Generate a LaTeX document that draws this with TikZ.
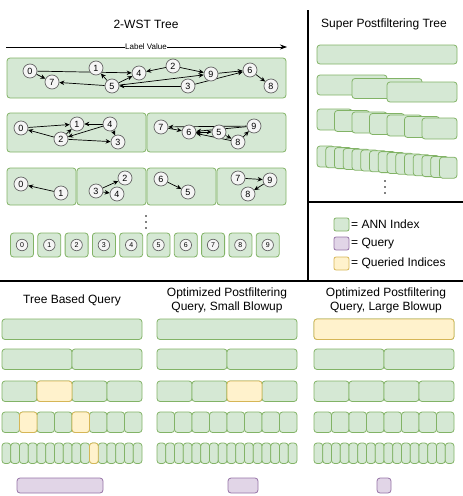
\documentclass[tikz,border=0pt]{standalone}
\usepackage{fontspec}
\setmainfont{Liberation Sans}
\usetikzlibrary{arrows.meta,backgrounds}
\definecolor{annfill}{HTML}{D5E8D4}
\definecolor{annline}{HTML}{82B366}
\definecolor{qfill}{HTML}{E1D5E7}
\definecolor{qline}{HTML}{9673A6}
\definecolor{hitfill}{HTML}{FFF2CC}
\definecolor{hitline}{HTML}{D6B656}
\definecolor{vfill}{HTML}{F5F5F5}
\definecolor{vline}{HTML}{666666}

\begin{document}
\begin{tikzpicture}[x=1pt,y=-1pt,
    ann/.style={draw=annline,fill=annfill,rounded corners=3pt,line width=0.8pt},
    hit/.style={draw=hitline,fill=hitfill,rounded corners=3pt,line width=0.8pt},
    qry/.style={draw=qline,fill=qfill,rounded corners=3pt,line width=0.8pt},
    vtx/.style={draw=vline,fill=vfill,shape=circle,inner sep=0pt,minimum size=14pt,line width=0.7pt,font=\fontsize{9}{9}\selectfont},
    tiny/.style={vtx,minimum size=11.5pt,font=\fontsize{7}{7}\selectfont},
    edge/.style={-{Stealth[length=5pt,width=4.5pt]},line width=0.7pt},
    title/.style={font=\fontsize{12}{13.5}\selectfont,align=center},
    legend/.style={anchor=west,font=\fontsize{12}{13.5}\selectfont,inner sep=1pt}]
  \useasboundingbox (0,0) rectangle (463,496);

  \node[title] (tleft) at (146,24) {2-WST Tree};
  \node[title] (tright) at (384,24) {Super Postfiltering Tree};
  \coordinate (axs) at (6,47);
  \coordinate (axe) at (287,47);
  \draw[-{Stealth[length=7pt,width=5pt]},line width=0.7pt] (axs) -- (axe);
  \node[fill=white,inner sep=0.6pt,font=\fontsize{8}{8}\selectfont] (axlabel) at (146,47) {Label Value};

  \begin{scope}[on background layer]
    \draw[ann] (7,58) rectangle (286,98);
    \foreach \i in {0,1}
      \draw[ann] ({7+140*\i},113) rectangle ({146+140*\i},152);
    \foreach \i in {0,...,3}
      \draw[ann] ({7+70*\i},168) rectangle ({76+70*\i},205);
  \end{scope}

  \foreach \n/\x/\y in {0/30/71,7/52/82,1/96/68,5/112/86,4/139/73,2/173/66,9/211/74,3/188/86,6/250/70,8/271/86}
    \node[vtx] (a\n) at (\x,\y) {\n};
  \foreach \n/\x/\y in {0/21/128,1/77/124,2/61/139,4/110/124,3/118/142,7/161/127,6/189/132,5/219/132,8/238/142,9/254/126}
    \node[vtx] (b\n) at (\x,\y) {\n};
  \foreach \n/\x/\y in {0/21/184,1/61/193,2/125/178,3/96/191,4/117/194,6/161/179,5/188/192,7/238/178,9/270/180,8/248/194}
    \node[vtx] (c\n) at (\x,\y) {\n};

  \begin{scope}[on background layer]
    \draw[edge] (a0) -- (a7);
    \draw[edge] (a0) -- (a4);
    \draw[edge] (a5) -- (a7);
    \draw[edge] (a5) -- (a1);
    \draw[edge] (a5) -- (a4);
    \draw[edge] (a2) -- (a4);
    \draw[edge] (a2) -- (a9);
    \draw[edge] (a3) -- (a5);
    \draw[edge] (a5) -- (a9);
    \draw[edge] (a3) -- (a6);
    \draw[edge] (a9) -- (a6);
    \draw[edge] (a6) -- (a8);
    \draw[edge] (b2) -- (b0);
    \draw[edge] (b0) -- (b1);
    \draw[edge] (b2) -- (b1);
    \draw[edge] (b4) -- (b1);
    \draw[edge] (b4) -- (b3);
    \draw[edge] (b4) -- (b2);
    \draw[edge] (b2) -- (b3);
    \draw[edge] (b9) -- (b7);
    \draw[edge] (b7) -- (b6);
    \draw[edge] (b9) -- (b6);
    \draw[edge] (b6) -- (b5);
    \draw[edge] (b5) -- (b8);
    \draw[edge] (b8) -- (b9);
    \draw[edge] (b8) -- (b6);
    \draw[edge] (c1) -- (c0);
    \draw[edge] (c3) -- (c2);
    \draw[edge] (c3) -- (c4);
    \draw[edge] (c6) -- (c5);
    \draw[edge] (c7) -- (c9);
    \draw[edge] (c9) -- (c8);
  \end{scope}

  \foreach \k in {0,1,2}
    \fill (146,{216+6*\k}) circle (0.9pt);
  \foreach \i in {0,...,9} {
    \pgfmathsetmacro\cx{22+27.3*\i}
    \draw[ann] ({\cx-11.5},233) rectangle ({\cx+11.5},257);
    \node[tiny] (d\i) at (\cx,245) {\i};
  }

  \draw[ann] (317,45) rectangle (457,64);
  \foreach \i in {0,1,2}
    \draw[ann] ({317+35*\i},{75+3.5*\i}) rectangle ({387+35*\i},{95+3.5*\i});
  \foreach \i in {0,...,6}
    \draw[ann] ({317+17.5*\i},{109+1.5*\i}) rectangle ({352+17.5*\i},{130+1.5*\i});
  \foreach \i in {0,...,14}
    \draw[ann] ({317+8.75*\i},{146+0.8*\i}) rectangle ({334.5+8.75*\i},{167+0.8*\i});
  \foreach \k in {0,1,2}
    \fill (385,{181+6*\k}) circle (0.9pt);

  \draw[line width=1.2pt] (308,10) -- (308,281);
  \draw[line width=1.2pt] (0,281) -- (463,281);
  \draw[line width=1.2pt] (308,202) -- (463,202);

  \draw[ann,rounded corners=2pt] (334,218) rectangle (349,231);
  \node[legend] (lgann) at (350,224.5) {= ANN Index};
  \draw[qry,rounded corners=2pt] (334,237) rectangle (349,250);
  \node[legend] (lgqry) at (350,243.5) {= Query};
  \draw[hit,rounded corners=2pt] (334,257) rectangle (349,270);
  \node[legend] (lghit) at (350,263.5) {= Queried Indices};

  \node[title] (qtree) at (72,300) {Tree Based Query};
  \node[title] (qsmall) at (227,300.5) {Optimized Postfiltering\\Query, Small Blowup};
  \node[title] (qlarge) at (386,300.5) {Optimized Postfiltering\\Query, Large Blowup};

  \foreach \x in {2,157,314} {
    \foreach \n/\y in {1/319,2/349,4/381,8/412,16/443} {
      \pgfmathsetmacro\w{140/\n}
      \pgfmathtruncatemacro\m{\n-1}
      \foreach \k in {0,...,\m}
        \draw[ann] ({\x+\w*\k},\y) rectangle ({\x+\w*(\k+1)},{\y+20.5});
    }
  }
  \draw[hit] (37,381) rectangle (72,401.5);
  \draw[hit] (19.5,412) rectangle (37,432.5);
  \draw[hit] (72,412) rectangle (89.5,432.5);
  \draw[hit] (89.5,443) rectangle (98.25,463.5);
  \draw[hit] (227,381) rectangle (262,401.5);
  \draw[hit] (314,319) rectangle (454,339.5);

  \draw[qry] (17,478) rectangle (103,493);
  \draw[qry] (228,478) rectangle (258,493);
  \draw[qry] (377,478) rectangle (391,493);
\end{tikzpicture}
\end{document}
